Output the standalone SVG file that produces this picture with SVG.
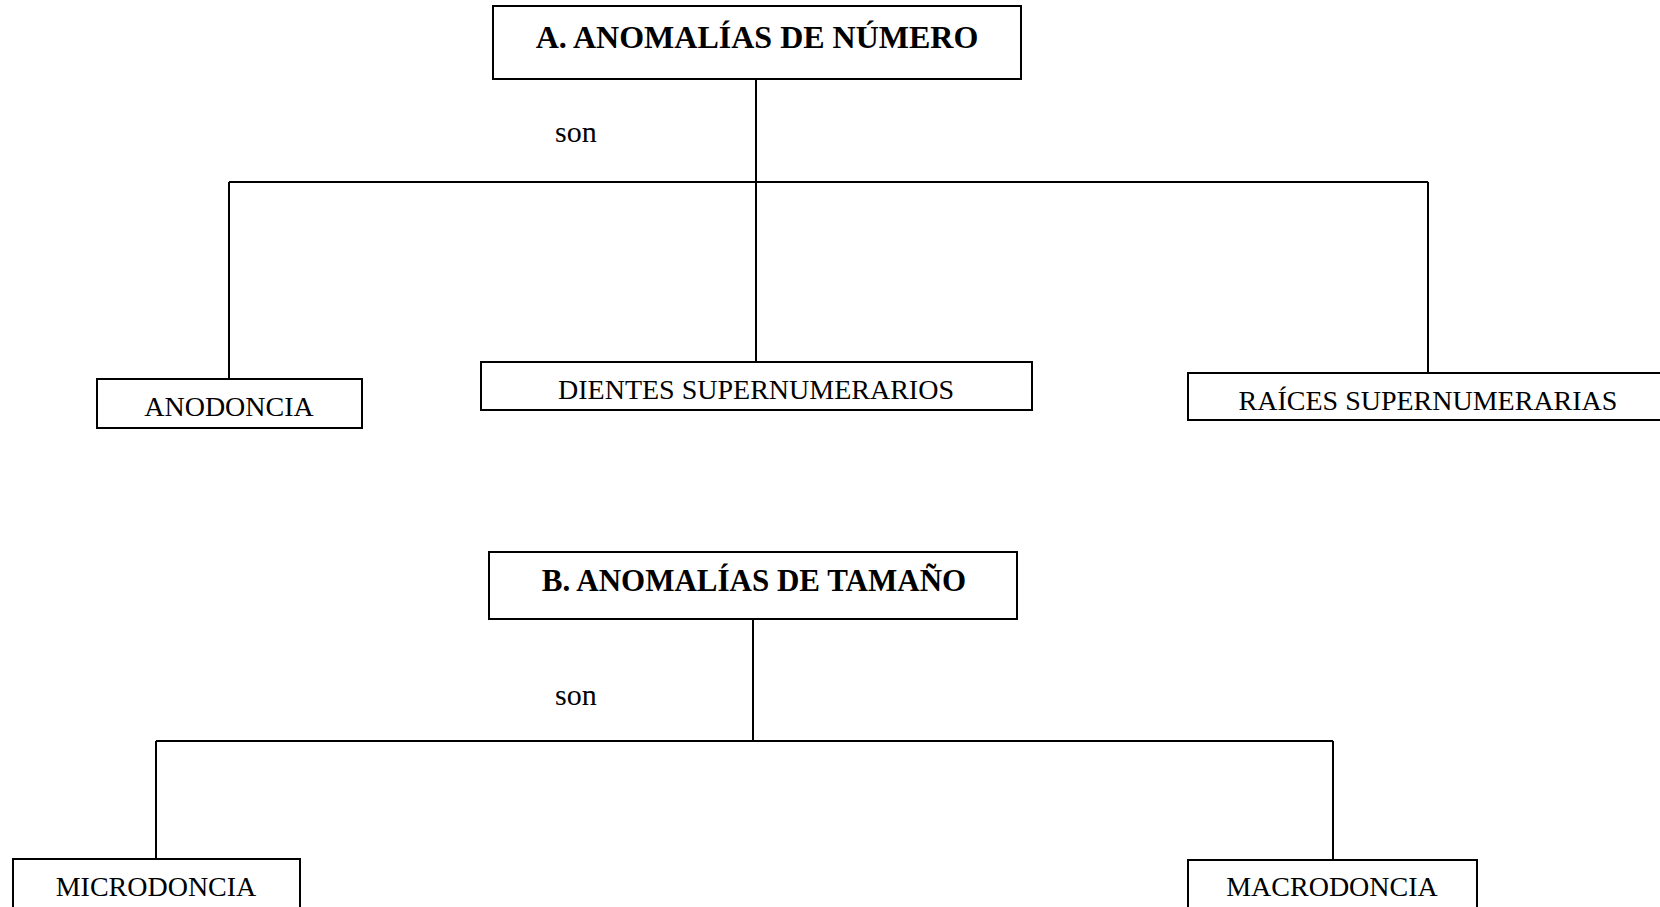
<svg xmlns="http://www.w3.org/2000/svg" width="1660" height="907" viewBox="0 0 1660 907">
<style>
.box{fill:#fff;stroke:#000;stroke-width:2}
.t{font-family:"Liberation Serif","Times New Roman",serif;fill:#000;text-anchor:middle}
.title{font-weight:bold}
.lbl{font-size:28px}
.son{font-family:"Liberation Serif","Times New Roman",serif;font-size:30px;fill:#000}
.c{fill:none;stroke:#000;stroke-width:2}
</style>
<rect width="1660" height="907" fill="#fff"/>
<g id="connectors">
<path class="c" d="M756 79 V182 M229 182 H1428 M229 182 V379 M756 182 V362 M1428 182 V373"/>
<path class="c" d="M753 619 V741 M156 741 H1333 M156 741 V859 M1333 741 V860"/>
</g>
<g id="nodeA">
<rect class="box" x="493" y="6" width="528" height="73"/>
<text class="t title" x="757" y="48" font-size="32">A. ANOMALÍAS DE NÚMERO</text>
</g>
<text class="son" x="555" y="142">son</text>
<g id="anodoncia">
<rect class="box" x="97" y="379" width="265" height="49"/>
<text class="t lbl" x="229" y="416">ANODONCIA</text>
</g>
<g id="dientes">
<rect class="box" x="481" y="362" width="551" height="48"/>
<text class="t lbl" x="756" y="399">DIENTES SUPERNUMERARIOS</text>
</g>
<g id="raices">
<rect class="box" x="1188" y="373" width="500" height="47"/>
<text class="t lbl" x="1428" y="410">RAÍCES SUPERNUMERARIAS</text>
</g>
<g id="nodeB">
<rect class="box" x="489" y="552" width="528" height="67"/>
<text class="t title" x="754" y="591" font-size="31">B. ANOMALÍAS DE TAMAÑO</text>
</g>
<text class="son" x="555" y="705">son</text>
<g id="microdoncia">
<rect class="box" x="13" y="859" width="287" height="60"/>
<text class="t lbl" x="156" y="896">MICRODONCIA</text>
</g>
<g id="macrodoncia">
<rect class="box" x="1188" y="860" width="289" height="60"/>
<text class="t lbl" x="1332" y="896">MACRODONCIA</text>
</g>
</svg>
